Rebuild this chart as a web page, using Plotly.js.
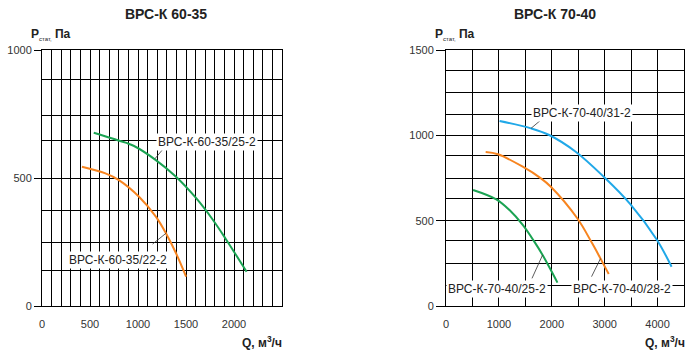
<!DOCTYPE html>
<html>
<head>
<meta charset="utf-8">
<script src="https://cdn.plot.ly/plotly-3.0.1.min.js"></script>
<style>html,body{margin:0;padding:0;background:#fff;}#chart{width:699px;height:354px;}</style>
</head>
<body>
<div id="chart"></div>
<script>
// ---- data: ВРС-К 60-35 ----
const q6035_25 = [539, 871, 959, 1186, 1396, 1606, 1781, 1921, 2131];
const p6035_25 = [677, 638, 625, 570, 505, 421, 336, 258, 134];
const q6035_22 = [416, 661, 801, 1011, 1186, 1291, 1396, 1501];
const p6035_22 = [544, 518, 492, 427, 349, 284, 206, 115];
// ---- data: ВРС-К 70-40 ----
const q7040_31 = [1013, 1608, 1951, 2452, 2983, 3484, 3983, 4265];
const p7040_31 = [1084, 1041, 1002, 904, 757, 597, 390, 230];
const q7040_28 = [750, 982, 1451, 1795, 1982, 2482, 2764, 2952, 3077];
const p7040_28 = [902, 889, 816, 748, 699, 514, 367, 260, 187];
const q7040_25 = [512, 951, 1201, 1451, 1670, 1826, 1982, 2107];
const p7040_25 = [680, 625, 562, 475, 377, 299, 211, 137];

const names = ['ВРС-К-60-35/25-2', 'ВРС-К-60-35/22-2', 'ВРС-К-70-40/31-2', 'ВРС-К-70-40/25-2', 'ВРС-К-70-40/28-2'];
const titles = ['ВРС-К 60-35', 'ВРС-К 70-40'];

// axis ticks / grid
const x1Ticks = [0, 500, 1000, 1500, 2000];
const y1Ticks = [0, 500, 1000];
const y1Grid = [137, 250, 373, 645, 743, 885];
const x2Ticks = [0, 1000, 2000, 3000, 4000];
const y2Ticks = [0, 500, 1000, 1500];
const y2Grid = [123, 250, 381, 631, 748, 883, 1125, 1252, 1379];

const GREEN = '#1aa352', ORANGE = '#f7841f', BLUE = '#20a8e8';

const traces = [
  {x: q6035_25, y: p6035_25, xaxis: 'x', yaxis: 'y', color: GREEN},
  {x: q6035_22, y: p6035_22, xaxis: 'x', yaxis: 'y', color: ORANGE},
  {x: q7040_31, y: p7040_31, xaxis: 'x2', yaxis: 'y2', color: BLUE},
  {x: q7040_28, y: p7040_28, xaxis: 'x2', yaxis: 'y2', color: ORANGE},
  {x: q7040_25, y: p7040_25, xaxis: 'x2', yaxis: 'y2', color: GREEN}
].map(t => ({x: t.x, y: t.y, xaxis: t.xaxis, yaxis: t.yaxis, type: 'scatter', mode: 'lines',
  line: {color: t.color, width: 2, shape: 'spline', smoothing: 1}, hoverinfo: 'skip'}));

const tickFont = {family: 'Liberation Sans, Arial, sans-serif', size: 11, color: '#333'};
function xax(domain, range, ticks, minorDt) {
  return {domain: domain, range: range, tickmode: 'array', tickvals: ticks, ticks: '',
    showline: true, linecolor: '#000', linewidth: 1, mirror: true, zeroline: false,
    showgrid: true, gridcolor: '#000', gridwidth: 1, tickfont: tickFont, ticklabelstandoff: 8,
    minor: {dtick: minorDt, tick0: 0, showgrid: true, gridcolor: '#000', gridwidth: 1, ticks: ''},
    fixedrange: true};
}
function yax(domain, range, ticks, grid, anchor, tl) {
  return {domain: domain, range: range, anchor: anchor, tickmode: 'array', tickvals: ticks,
    ticks: 'outside', ticklen: tl, tickcolor: '#000', tickwidth: 1,
    showline: true, linecolor: '#000', linewidth: 1, mirror: true, zeroline: false,
    showgrid: true, gridcolor: '#000', gridwidth: 1, tickfont: tickFont,
    minor: {tickmode: 'array', tickvals: grid, showgrid: true, gridcolor: '#000', gridwidth: 1, ticks: ''},
    fixedrange: true};
}

const W = 699, H = 354;
const px = v => v / W, py = v => 1 - v / H;
const yDom = [py(306), py(50)];

const labelFont = {family: 'Liberation Sans, Arial, sans-serif', size: 12, color: '#222'};
const boldFont = {family: 'Liberation Sans, Arial, sans-serif', size: 14, color: '#222'};
const axTitleFont = {family: 'Liberation Sans, Arial, sans-serif', size: 12, color: '#222'};

function label(text, x, y, xr, yr) {
  return {text: text, x: x, y: y, xref: xr, yref: yr, showarrow: false, bgcolor: '#fff',
    font: labelFont, borderpad: 1, xanchor: 'center', yanchor: 'middle'};
}
function leader(x0, y0, x1, y1, xr, yr) {
  return {type: 'line', x0: x0, y0: y0, x1: x1, y1: y1, xref: xr, yref: yr,
    line: {color: '#333', width: 0.8}, layer: 'above'};
}
const pLabel = '<b>P</b><sub><span style="font-size:6px">стат,</span></sub><b> Па</b>';
const qLabel = '<b>Q, м<sup>3</sup>/ч</b>';

const annotations = [
  {text: '<b>' + titles[0] + '</b>', x: px(166), y: py(14), xref: 'paper', yref: 'paper', showarrow: false, font: boldFont, xanchor: 'center', yanchor: 'middle'},
  {text: '<b>' + titles[1] + '</b>', x: px(555), y: py(14), xref: 'paper', yref: 'paper', showarrow: false, font: boldFont, xanchor: 'center', yanchor: 'middle'},
  {text: pLabel, x: px(29), y: py(34), xref: 'paper', yref: 'paper', showarrow: false, font: axTitleFont, xanchor: 'left', yanchor: 'middle'},
  {text: pLabel, x: px(433), y: py(34), xref: 'paper', yref: 'paper', showarrow: false, font: axTitleFont, xanchor: 'left', yanchor: 'middle'},
  {text: qLabel, x: px(284), y: py(342), xref: 'paper', yref: 'paper', showarrow: false, font: axTitleFont, xanchor: 'right', yanchor: 'middle'},
  {text: qLabel, x: px(687), y: py(342), xref: 'paper', yref: 'paper', showarrow: false, font: axTitleFont, xanchor: 'right', yanchor: 'middle'},
  label(names[0], 1722, 641, 'x', 'y'),
  label(names[1], 793, 180, 'x', 'y'),
  label(names[2], 2580, 1131, 'x2', 'y2'),
  label(names[3], 966, 100, 'x2', 'y2'),
  label(names[4], 3330, 100, 'x2', 'y2')
];

const shapes = [
  leader(1176, 575, 1270, 617, 'x', 'y'),
  leader(1291, 284, 1152, 242, 'x', 'y'),
  leader(1608, 1041, 1795, 1090, 'x2', 'y2'),
  leader(1826, 299, 1626, 162, 'x2', 'y2'),
  leader(2921, 278, 2752, 172, 'x2', 'y2')
];

const layout = {
  width: W, height: H, margin: {l: 0, r: 0, t: 0, b: 0},
  paper_bgcolor: '#fff', plot_bgcolor: '#fff', showlegend: false,
  xaxis: Object.assign(xax([px(42), px(282)], [0, 2500], x1Ticks, 100), {anchor: 'y'}),
  yaxis: yax(yDom, [0, 1000], y1Ticks, y1Grid, 'x', 7),
  xaxis2: Object.assign(xax([px(446), px(684)], [0, 4500], x2Ticks, 500), {anchor: 'y2'}),
  yaxis2: yax(yDom, [0, 1500], y2Ticks, y2Grid, 'x2', 9),
  annotations: annotations,
  shapes: shapes
};

Plotly.newPlot('chart', traces, layout, {displayModeBar: false, staticPlot: true});
</script>
</body>
</html>
